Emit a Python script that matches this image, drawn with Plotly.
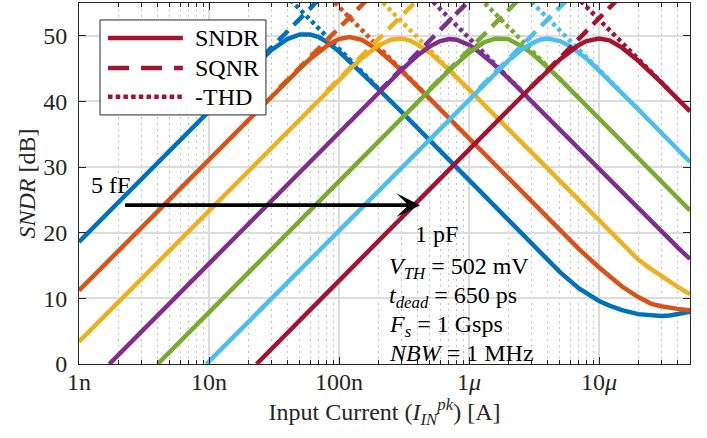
import math
import plotly.graph_objects as go

# ---- data: SNDR / SQNR / -THD versus peak input current, seven capacitances (5 fF ... 1 pF)
cur_c1 = [1e-9, 1e-8, 2e-8, 3e-8, 4e-8, 5e-8, 6e-8, 7e-8, 8e-8, 1e-7, 1.5e-7, 2e-7, 3e-7,
          1e-6, 2e-6, 5e-6, 7e-6, 8.5e-6, 1e-5, 1.2e-5, 1.5e-5, 2e-5, 2.5e-5, 3e-5, 3.5e-5,
          4e-5, 5e-5]
sndr_c1 = [18.6, 38.6, 44.5, 47.8, 49.5, 50.2, 50.2, 49.8, 49.1, 47.6, 44.4, 41.9, 38.5,
           28.0, 22.0, 14.0, 11.5, 10.4, 9.6, 8.9, 8.2, 7.6, 7.35, 7.3, 7.4,
           7.6, 7.95]

cur_c2 = [1e-9, 1e-8, 5e-8, 6e-8, 7e-8, 8.5e-8, 1e-7, 1.2e-7, 1.5e-7, 1.75e-7, 2e-7, 2.5e-7,
          3e-7, 5e-7, 1e-6, 2e-6, 5e-6, 7e-6, 1e-5, 1.5e-5, 2e-5, 2.5e-5, 3e-5, 3.5e-5,
          4e-5, 5e-5]
sndr_c2 = [11.2, 31.2, 45.05, 46.5, 47.6, 48.8, 49.5, 49.8, 49.4, 48.65, 47.85, 46.2,
           44.75, 40.4, 34.4, 28.4, 20.4, 17.5, 14.7, 11.8, 10.2, 9.2, 8.8, 8.55,
           8.4, 8.2]

cur_c3 = [1e-9, 1e-8, 1e-7, 1.25e-7, 1.5e-7, 2e-7, 2.5e-7, 3e-7, 3.5e-7, 4e-7, 5e-7, 7e-7,
          1e-6, 2e-6, 5e-6, 1e-5, 1.5e-5, 2e-5, 2.5e-5, 3e-5, 4e-5, 5e-5]
sndr_c3 = [3.4, 23.4, 43.3, 45.2, 46.6, 48.5, 49.4, 49.6, 49.3, 48.7, 47.4, 44.8,
           41.8, 35.8, 27.8, 21.8, 18.3, 15.9, 14.5, 13.4, 11.8, 10.6]

cur_c4 = [1.71e-9, 1e-8, 1e-7, 3e-7, 4e-7, 5e-7, 6e-7, 7e-7, 8e-7, 1e-6, 1.2e-6, 1.5e-6,
          2e-6, 5e-6, 1e-5, 2e-5, 3e-5, 4e-5, 5e-5]
sndr_c4 = [0.0, 15.3, 35.3, 44.75, 47.0, 48.4, 49.2, 49.5, 49.4, 48.6, 47.5, 45.9,
           43.55, 35.7, 29.6, 23.6, 20.2, 17.8, 16.0]

cur_c5 = [4.03e-9, 1e-8, 1e-7, 7e-7, 1e-6, 1.3e-6, 1.6e-6, 2e-6, 2.5e-6, 3e-6, 4e-6, 5e-6,
          1e-5, 2e-5, 5e-5]
sndr_c5 = [0.0, 7.9, 27.9, 44.7, 47.4, 49.0, 49.6, 49.5, 48.5, 47.4, 45.2, 43.4,
           37.4, 31.4, 23.4]

cur_c6 = [9.55e-9, 1e-7, 1e-6, 1.5e-6, 2e-6, 2.5e-6, 3e-6, 3.5e-6, 4e-6, 5e-6, 6e-6, 8e-6,
          1e-5, 2e-5, 5e-5]
sndr_c6 = [0.0, 20.4, 40.4, 43.8, 46.2, 47.8, 48.8, 49.4, 49.6, 49.2, 48.4, 46.5,
           44.7, 38.8, 30.8]

cur_c7 = [2.32e-8, 1e-7, 1e-6, 3e-6, 5e-6, 6e-6, 7e-6, 8e-6, 1e-5, 1.2e-5, 1.5e-5, 2e-5,
          3e-5, 5e-5]
sndr_c7 = [0.0, 12.7, 32.7, 42.2, 46.4, 47.7, 48.6, 49.2, 49.6, 49.3, 48.2, 46.2,
           42.9, 38.5]

# SQNR (rising) and -THD (falling) asymptotes near each peak
sqnr_cur_c1, sqnr_db_c1 = [1.5e-8, 8e-8], [42.1, 56.7]
sqnr_cur_c2, sqnr_db_c2 = [3.5e-8, 2e-7], [42.1, 57.2]
sqnr_cur_c3, sqnr_db_c3 = [8e-8, 5e-7], [41.5, 57.4]
sqnr_cur_c4, sqnr_db_c4 = [2e-7, 1.2e-6], [41.4, 56.9]
sqnr_cur_c5, sqnr_db_c5 = [5e-7, 3e-6], [41.9, 57.4]
sqnr_cur_c6, sqnr_db_c6 = [1.2e-6, 7e-6], [42.0, 57.3]
sqnr_cur_c7, sqnr_db_c7 = [3e-6, 1.8e-5], [42.2, 57.8]

thd_cur_c1, thd_db_c1 = [3.5e-8, 2e-7], [57.1, 42.0]
thd_cur_c2, thd_db_c2 = [7e-8, 5e-7], [57.5, 40.4]
thd_cur_c3, thd_db_c3 = [1.8e-7, 1e-6], [56.7, 41.8]
thd_cur_c4, thd_db_c4 = [4e-7, 2.5e-6], [57.6, 41.7]
thd_cur_c5, thd_db_c5 = [1e-6, 6e-6], [57.4, 41.8]
thd_cur_c6, thd_db_c6 = [2.5e-6, 1.5e-5], [56.8, 41.3]
thd_cur_c7, thd_db_c7 = [6e-6, 3.5e-5], [56.9, 41.6]

x_tick_vals = [1e-9, 1e-8, 1e-7, 1e-6, 1e-5]
x_tick_text = ["1n", "10n", "100n", "1<i>μ</i>", "10<i>μ</i>"]
y_tick_vals = [0, 10, 20, 30, 40, 50]

legend_labels = ["SNDR", "SQNR", "-THD"]

arrow_from, arrow_to, arrow_level = 2.2e-9, 4.2e-7, 24.2

COLORS = ["#0072BD", "#D95319", "#EDB120", "#7E2F8E", "#77AC30", "#4DBEEE", "#A2142F"]
FONT = "Liberation Serif"
FS = 24
AXIS_COLOR = "#262626"
LW = 4.5
PLOT_DASH = {"SNDR": "solid", "SQNR": "14px,8px", "-THD": "4px,3.5px"}
LEGEND_DASH = {"SNDR": "solid", "SQNR": "21px,12px", "-THD": "4.5px,3.2px"}

curves = [
    (cur_c1, sndr_c1, sqnr_cur_c1, sqnr_db_c1, thd_cur_c1, thd_db_c1),
    (cur_c2, sndr_c2, sqnr_cur_c2, sqnr_db_c2, thd_cur_c2, thd_db_c2),
    (cur_c3, sndr_c3, sqnr_cur_c3, sqnr_db_c3, thd_cur_c3, thd_db_c3),
    (cur_c4, sndr_c4, sqnr_cur_c4, sqnr_db_c4, thd_cur_c4, thd_db_c4),
    (cur_c5, sndr_c5, sqnr_cur_c5, sqnr_db_c5, thd_cur_c5, thd_db_c5),
    (cur_c6, sndr_c6, sqnr_cur_c6, sqnr_db_c6, thd_cur_c6, thd_db_c6),
    (cur_c7, sndr_c7, sqnr_cur_c7, sqnr_db_c7, thd_cur_c7, thd_db_c7),
]

fig = go.Figure()
for k, (cx, cy, sx, sy, tx, ty) in enumerate(curves):
    col = COLORS[k]
    for name, xs, ys in (("SNDR", cx, cy), ("SQNR", sx, sy), ("-THD", tx, ty)):
        fig.add_trace(go.Scatter(x=xs, y=ys, mode="lines", name=name, showlegend=False,
                                 line=dict(color=col, width=LW, dash=PLOT_DASH[name])))

tick_font = dict(family=FONT, size=FS, color=AXIS_COLOR)
txt_font = dict(family=FONT, size=FS, color="black")

fig.update_xaxes(
    type="log", range=[-9, math.log10(5e-5)],
    tickvals=x_tick_vals, ticktext=x_tick_text, tickfont=tick_font,
    ticks="inside", ticklen=7, tickwidth=1, tickcolor=AXIS_COLOR,
    showline=True, linecolor=AXIS_COLOR, linewidth=1, mirror="allticks",
    showgrid=True, gridcolor="#dcdcdc", gridwidth=1.5, zeroline=False,
    minor=dict(ticks="inside", ticklen=4, tickcolor=AXIS_COLOR, dtick="D1",
               showgrid=True, gridcolor="#c2c2c2", griddash="1.5px,4.5px", gridwidth=1),
    title=dict(text="Input Current (<i>I</i><sub><i>IN</i></sub><sup><i>pk</i></sup>) [A]",
               font=dict(family=FONT, size=FS, color=AXIS_COLOR), standoff=6),
    ticklabelstandoff=-4, automargin=False,
)
fig.update_yaxes(
    range=[0, 55], tickvals=y_tick_vals, tickfont=tick_font,
    ticks="inside", ticklen=7, tickwidth=1, tickcolor=AXIS_COLOR,
    showline=True, linecolor=AXIS_COLOR, linewidth=1, mirror="allticks",
    showgrid=True, gridcolor="#dcdcdc", gridwidth=1.5, zeroline=False,
    title=dict(text="<i>SNDR</i> [dB]", font=dict(family=FONT, size=FS, color=AXIS_COLOR),
               standoff=0),
    ticklabelstandoff=6, automargin=False,
)

annotations = [
    dict(x=math.log10(arrow_to), y=arrow_level, ax=math.log10(arrow_from), ay=arrow_level,
         xref="x", yref="y", axref="x", ayref="y", text="", showarrow=True,
         arrowhead=3, arrowwidth=3.6, arrowsize=1.1, arrowcolor="black"),
    dict(x=math.log10(1.2e-9), y=27.2, xref="x", yref="y", text="5 fF", showarrow=False,
         xanchor="left", yanchor="middle", font=txt_font),
    dict(x=math.log10(3.7e-7), y=19.8, xref="x", yref="y", text="1 pF", showarrow=False,
         xanchor="left", yanchor="middle", font=txt_font),
    dict(x=math.log10(2.34e-7), y=14.6, xref="x", yref="y",
         text="<i>V</i><sub><i>TH</i></sub> = 502 mV", showarrow=False,
         xanchor="left", yanchor="middle", font=txt_font),
    dict(x=math.log10(2.34e-7), y=10.2, xref="x", yref="y",
         text="<i>t</i><sub><i>dead</i></sub> = 650 ps", showarrow=False,
         xanchor="left", yanchor="middle", font=txt_font),
    dict(x=math.log10(2.34e-7), y=5.8, xref="x", yref="y",
         text="<i>F</i><sub><i>s</i></sub> = 1 Gsps", showarrow=False,
         xanchor="left", yanchor="middle", font=txt_font),
    dict(x=math.log10(2.34e-7), y=1.7, xref="x", yref="y",
         text="<i>NBW</i> = 1 MHz", showarrow=False,
         xanchor="left", yanchor="middle", font=txt_font),
]

# legend box (paper coordinates), styled with the last (1 pF) curve colour
shapes = [dict(type="rect", xref="paper", yref="paper", x0=0.0344, x1=0.306, y0=0.690, y1=0.953,
               fillcolor="white", line=dict(color=AXIS_COLOR, width=1), layer="above")]
row_y = [0.903, 0.820, 0.740]
for label, ry in zip(legend_labels, row_y):
    shapes.append(dict(type="line", xref="paper", yref="paper", x0=0.0475, x1=0.170, y0=ry, y1=ry,
                       line=dict(color=COLORS[-1], width=LW, dash=LEGEND_DASH[label]),
                       layer="above"))
    annotations.append(dict(x=0.1866, y=ry, xref="paper", yref="paper", text=label,
                            showarrow=False, xanchor="left", yanchor="middle",
                            font=dict(family=FONT, size=FS, color="black")))

fig.update_layout(
    width=707, height=438,
    margin=dict(l=79, r=17, t=3, b=74),
    paper_bgcolor="white", plot_bgcolor="white",
    showlegend=False,
    annotations=annotations,
    shapes=shapes,
)

fig.write_html("out.html")
